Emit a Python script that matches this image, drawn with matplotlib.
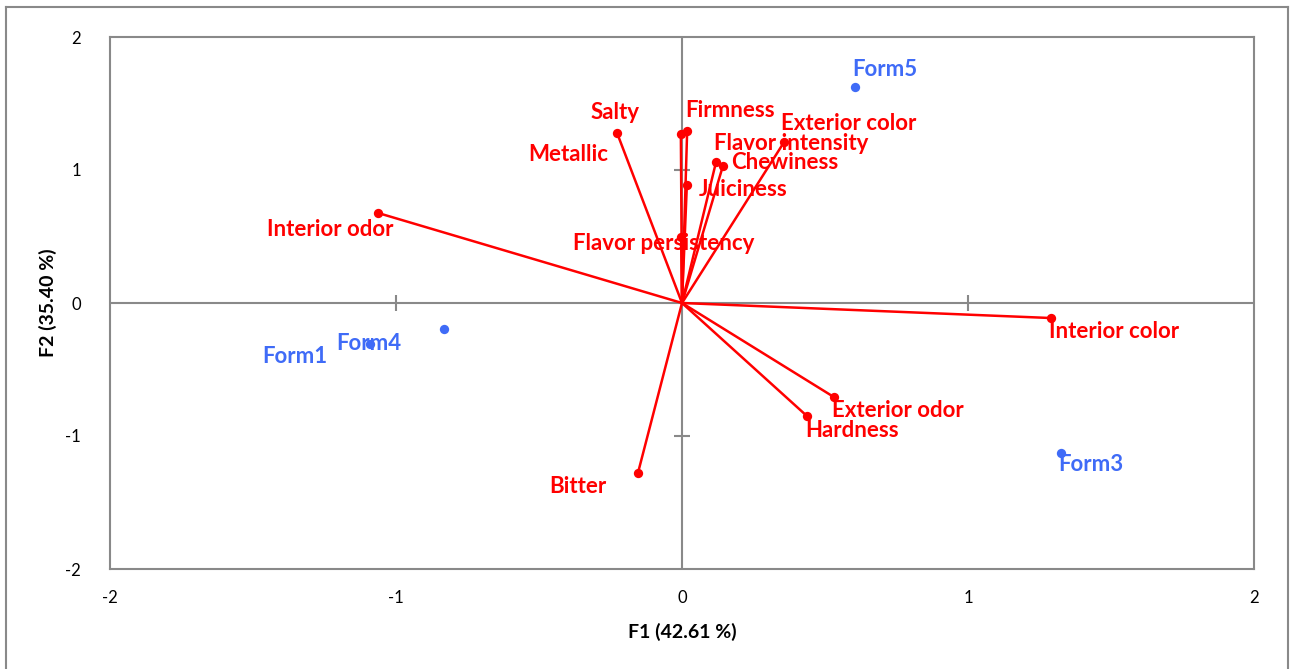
import matplotlib
matplotlib.use("Agg")
import matplotlib.pyplot as plt
from matplotlib.lines import Line2D

# Variables (loadings)
var_names = ["Salty", "Firmness", "Metallic", "Juiciness", "Flavor persistency",
             "Flavor intensity", "Chewiness", "Exterior color", "Interior odor",
             "Interior color", "Exterior odor", "Hardness", "Bitter"]
var_x = [-0.227, 0.018, -0.004, 0.017, -0.003, 0.119, 0.143, 0.357, -1.063,
         1.290, 0.531, 0.437, -0.154]
var_y = [1.278, 1.290, 1.270, 0.887, 0.496, 1.060, 1.030, 1.210, 0.677,
         -0.113, -0.707, -0.850, -1.278]
var_lx = [-0.234, 0.168, -0.399, 0.213, -0.063, 0.381, 0.360, 0.584, -1.231,
          1.510, 0.755, 0.594, -0.364]
var_ly = [1.429, 1.444, 1.113, 0.857, 0.444, 1.203, 1.053, 1.353, 0.556,
          -0.218, -0.805, -0.955, -1.383]

# Observations
obs_names = ["Form5", "Form4", "Form1", "Form3"]
obs_x = [0.605, -1.091, -0.832, 1.325]
obs_y = [1.624, -0.308, -0.195, -1.128]
obs_lx = [0.710, -1.094, -1.353, 1.430]
obs_ly = [1.759, -0.301, -0.406, -1.218]

xlim = (-2, 2)
ylim = (-2, 2)
xticks = [-2, -1, 0, 1, 2]
yticks = [-2, -1, 0, 1, 2]

RED = "#FF0000"
BLUE = "#3F6BF7"
GRAY = "#898989"
FONT = ["Lato", "DejaVu Sans"]

fig = plt.figure(figsize=(12.9, 6.69), dpi=100)
W, H = 1290, 669
ax = fig.add_axes([110 / W, 1 - 569 / H, (1254 - 110) / W, (569 - 37) / H])
ax.set_xlim(*xlim)
ax.set_ylim(*ylim)

for s in ax.spines.values():
    s.set_color(GRAY)
    s.set_linewidth(1.5)

ax.set_xticks(xticks)
ax.set_yticks(yticks)
ax.set_xticklabels([str(t) for t in xticks], family=FONT, fontsize=12)
ax.set_yticklabels([str(t) for t in yticks], family=FONT, fontsize=12)
ax.tick_params(axis="x", length=0, pad=15)
ax.tick_params(axis="y", length=0, pad=21)

ax.axhline(0, color=GRAY, lw=1.5, zorder=1)
ax.axvline(0, color=GRAY, lw=1.5, zorder=1)
for t in xticks:
    if t not in (0, xlim[0], xlim[1]):
        ax.plot([t], [0], marker="|", ms=12, mew=1.5, color=GRAY, zorder=1)
for t in yticks:
    if t not in (0, ylim[0], ylim[1]):
        ax.plot([0], [t], marker="_", ms=12, mew=1.5, color=GRAY, zorder=1)

for x, y in zip(var_x, var_y):
    ax.plot([0, x], [0, y], color=RED, lw=1.8, zorder=3)
ax.scatter(var_x, var_y, s=45, color=RED, zorder=4, linewidths=0)
for n, lx, ly in zip(var_names, var_lx, var_ly):
    ax.text(lx, ly, n, color=RED, fontsize=16, fontweight="bold", family=FONT,
            ha="center", va="center", zorder=5)

ax.scatter(obs_x, obs_y, s=45, color=BLUE, zorder=4, linewidths=0)
for n, lx, ly in zip(obs_names, obs_lx, obs_ly):
    ax.text(lx, ly, n, color=BLUE, fontsize=16, fontweight="bold", family=FONT,
            ha="center", va="center", zorder=5)

ax.set_xlabel("F1 (42.61 %)", family=FONT, fontsize=14, fontweight="bold", labelpad=12)
ax.set_ylabel("F2 (35.40 %)", family=FONT, fontsize=14, fontweight="bold", labelpad=6)

# outer chart border
fig.add_artist(Line2D([6 / W, 6 / W], [0, 1 - 7 / H], color=GRAY, lw=1.5, transform=fig.transFigure))
fig.add_artist(Line2D([6 / W, 1288 / W], [1 - 7 / H, 1 - 7 / H], color=GRAY, lw=1.5, transform=fig.transFigure))
fig.add_artist(Line2D([1288 / W, 1288 / W], [0, 1 - 7 / H], color=GRAY, lw=1.5, transform=fig.transFigure))

fig.savefig("out.png", dpi=100)
